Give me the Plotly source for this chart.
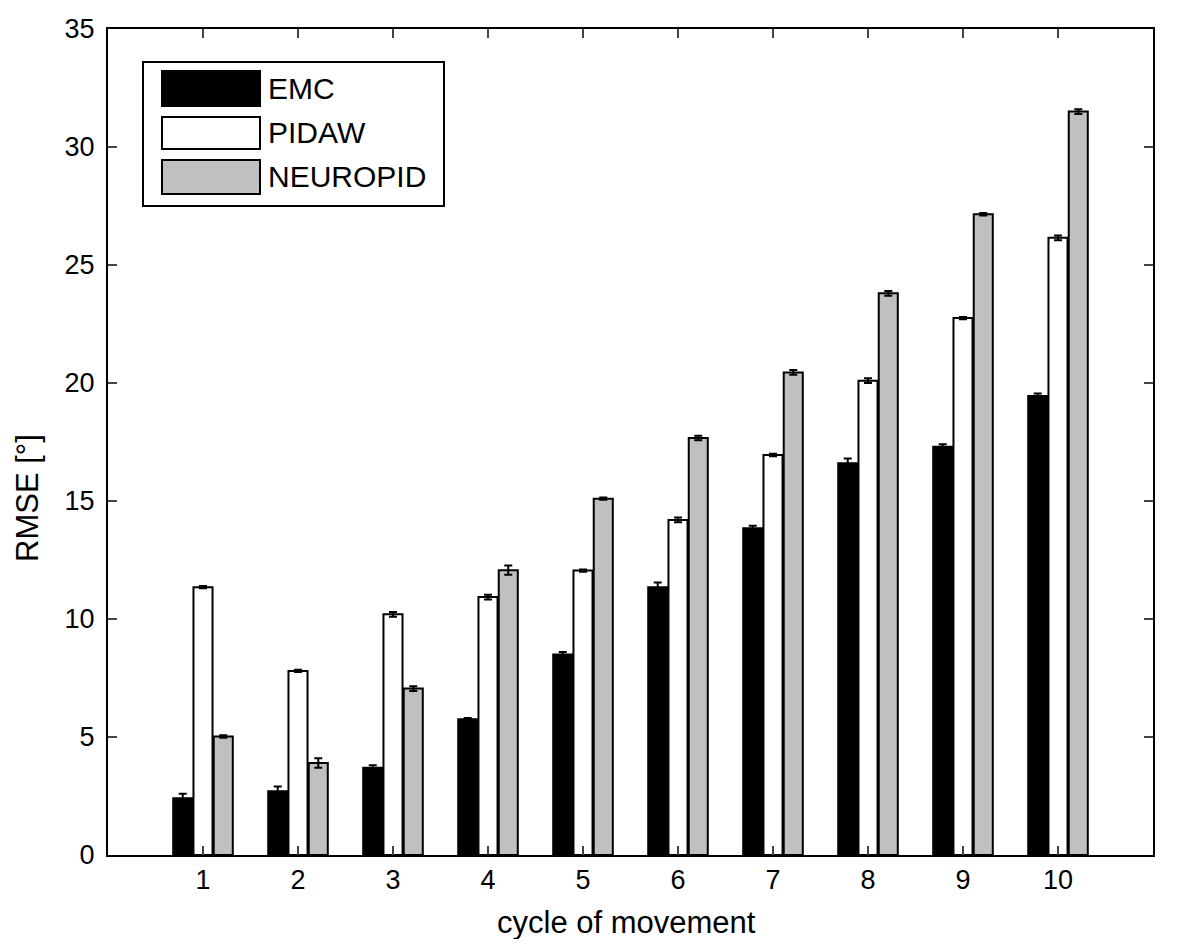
import plotly.graph_objects as go

# ===== Data =====
cycles = [1, 2, 3, 4, 5, 6, 7, 8, 9, 10]
cycle_labels = ["1", "2", "3", "4", "5", "6", "7", "8", "9", "10"]

emc = [2.4, 2.7, 3.7, 5.75, 8.5, 11.35, 13.85, 16.6, 17.3, 19.45]
emc_err = [0.2, 0.2, 0.1, 0.05, 0.1, 0.2, 0.1, 0.2, 0.1, 0.1]

pidaw = [11.35, 7.8, 10.2, 10.93, 12.05, 14.2, 16.95, 20.1, 22.75, 26.15]
pidaw_err = [0.05, 0.05, 0.1, 0.1, 0.05, 0.1, 0.05, 0.1, 0.05, 0.1]

neuropid = [5.02, 3.9, 7.05, 12.07, 15.1, 17.67, 20.45, 23.8, 27.15, 31.5]
neuropid_err = [0.05, 0.2, 0.1, 0.2, 0.05, 0.1, 0.1, 0.1, 0.05, 0.1]

series = [
    ("EMC", emc, emc_err, "black"),
    ("PIDAW", pidaw, pidaw_err, "white"),
    ("NEUROPID", neuropid, neuropid_err, "#c0c0c0"),
]

FONT = "Liberation Sans, Arial, sans-serif"

fig = go.Figure()

for name, vals, errs, color in series:
    fig.add_trace(go.Bar(
        x=cycles,
        y=vals,
        name=name,
        marker=dict(color=color, line=dict(color="black", width=2)),
        error_y=dict(type="data", array=errs, color="black", thickness=2, width=4),
        showlegend=False,
    ))

# page is drawn with an 8px body margin, so work in figure pixels
W, H = 1165, 931
L, R, T, B = 100, 1145, 21, 847


def px(x):
    return (x - 8 - L) / (R - L)


def py(y):
    return (B - (y - 8)) / (B - T)


# ===== Legend (drawn by hand, MATLAB-style big swatches) =====
fig.add_shape(type="rect", xref="paper", yref="paper",
              x0=px(143), x1=px(444), y0=py(206), y1=py(62),
              line=dict(color="black", width=2), fillcolor="white", layer="above")

sw_rows = [(71, 106), (117, 149), (160, 194)]
for (name, _, _, color), (y0, y1) in zip(series, sw_rows):
    fig.add_shape(type="rect", xref="paper", yref="paper",
                  x0=px(162), x1=px(260), y0=py(y1), y1=py(y0),
                  line=dict(color="black", width=2), fillcolor=color, layer="above")
    fig.add_annotation(xref="paper", yref="paper", x=px(266), y=py((y0 + y1) / 2),
                       text=name, showarrow=False, xanchor="left", yanchor="middle",
                       font=dict(family=FONT, size=30, color="black"))

# ===== Axis titles (placed like the MATLAB original) =====
fig.add_annotation(xref="paper", yref="paper", x=px(626), y=py(922),
                   text="cycle of movement", showarrow=False,
                   xanchor="center", yanchor="middle",
                   font=dict(family=FONT, size=31, color="black"))
fig.add_annotation(xref="paper", yref="paper", x=px(27), y=py(498),
                   text="RMSE [°]", showarrow=False, textangle=-90,
                   xanchor="center", yanchor="middle",
                   font=dict(family=FONT, size=31, color="black"))

fig.update_layout(
    width=W,
    height=H,
    margin=dict(l=L, r=W - R, t=T, b=H - B),
    paper_bgcolor="white",
    plot_bgcolor="white",
    barmode="group",
    bargap=0.36,
    bargroupgap=0.06,
    font=dict(family=FONT, size=27, color="black"),
    xaxis=dict(
        range=[0, 11],
        tickmode="array",
        tickvals=cycles,
        ticktext=cycle_labels,
        ticks="inside",
        ticklen=9,
        tickwidth=1.5,
        showline=True,
        linecolor="black",
        linewidth=2,
        mirror="ticks",
        showgrid=False,
        zeroline=False,
        automargin=False,
        tickfont=dict(family=FONT, size=27),
    ),
    yaxis=dict(
        range=[0, 35],
        tickmode="array",
        tickvals=[0, 5, 10, 15, 20, 25, 30, 35],
        ticks="inside",
        ticklen=9,
        tickwidth=1.5,
        showline=True,
        linecolor="black",
        linewidth=2,
        mirror="ticks",
        showgrid=False,
        zeroline=False,
        automargin=False,
        ticklabelstandoff=6,
        tickfont=dict(family=FONT, size=27),
    ),
)

fig.write_html("out.html")
